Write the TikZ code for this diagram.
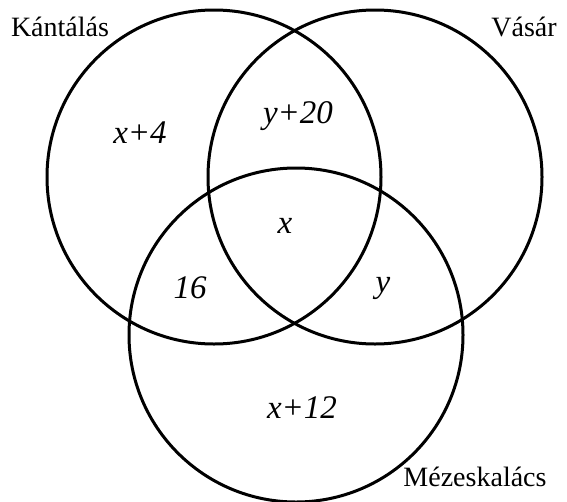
\documentclass[tikz,border=0pt]{standalone}
\usepackage{fontspec}
\setmainfont{Liberation Serif}
\usepackage{xcolor}
\usepackage{tikz}
\usetikzlibrary{positioning}
\definecolor{vennInk}{HTML}{000000}
\tikzset{
  setring/.style={circle, draw=vennInk, line width=3pt, minimum size=334pt, inner sep=0pt},
  setname/.style={font=\fontsize{28}{32}\selectfont, text=vennInk, inner sep=0pt},
  region/.style={font=\fontsize{33}{38}\selectfont\itshape, text=vennInk, inner sep=0pt}
}
\begin{document}
\begin{tikzpicture}[x=1pt, y=-1pt]
\useasboundingbox (0,0) rectangle (567,501);
\node[setring] (kantalas) at (214,177) {};
\node[setring] (vasar) at (375,177) {};
\node[setring] (mezes) at (296,335) {};
\node[setname] (kantalasname) at (60,27) {Kántálás};
\node[setname] (vasarname) at (524,27) {Vásár};
\node[setname] (mezesname) at (475,477) {Mézeskalács};
\node[region] (onlyk) at (140,133) {x+4};
\node[region] (kv) at (298,116) {y+20};
\node[region] (kvm) at (285,226) {x};
\node[region] (km) at (190,288) {16};
\node[region] (vm) at (383,288) {y};
\node[region] (onlym) at (302,408) {x+12};
\end{tikzpicture}
\end{document}
